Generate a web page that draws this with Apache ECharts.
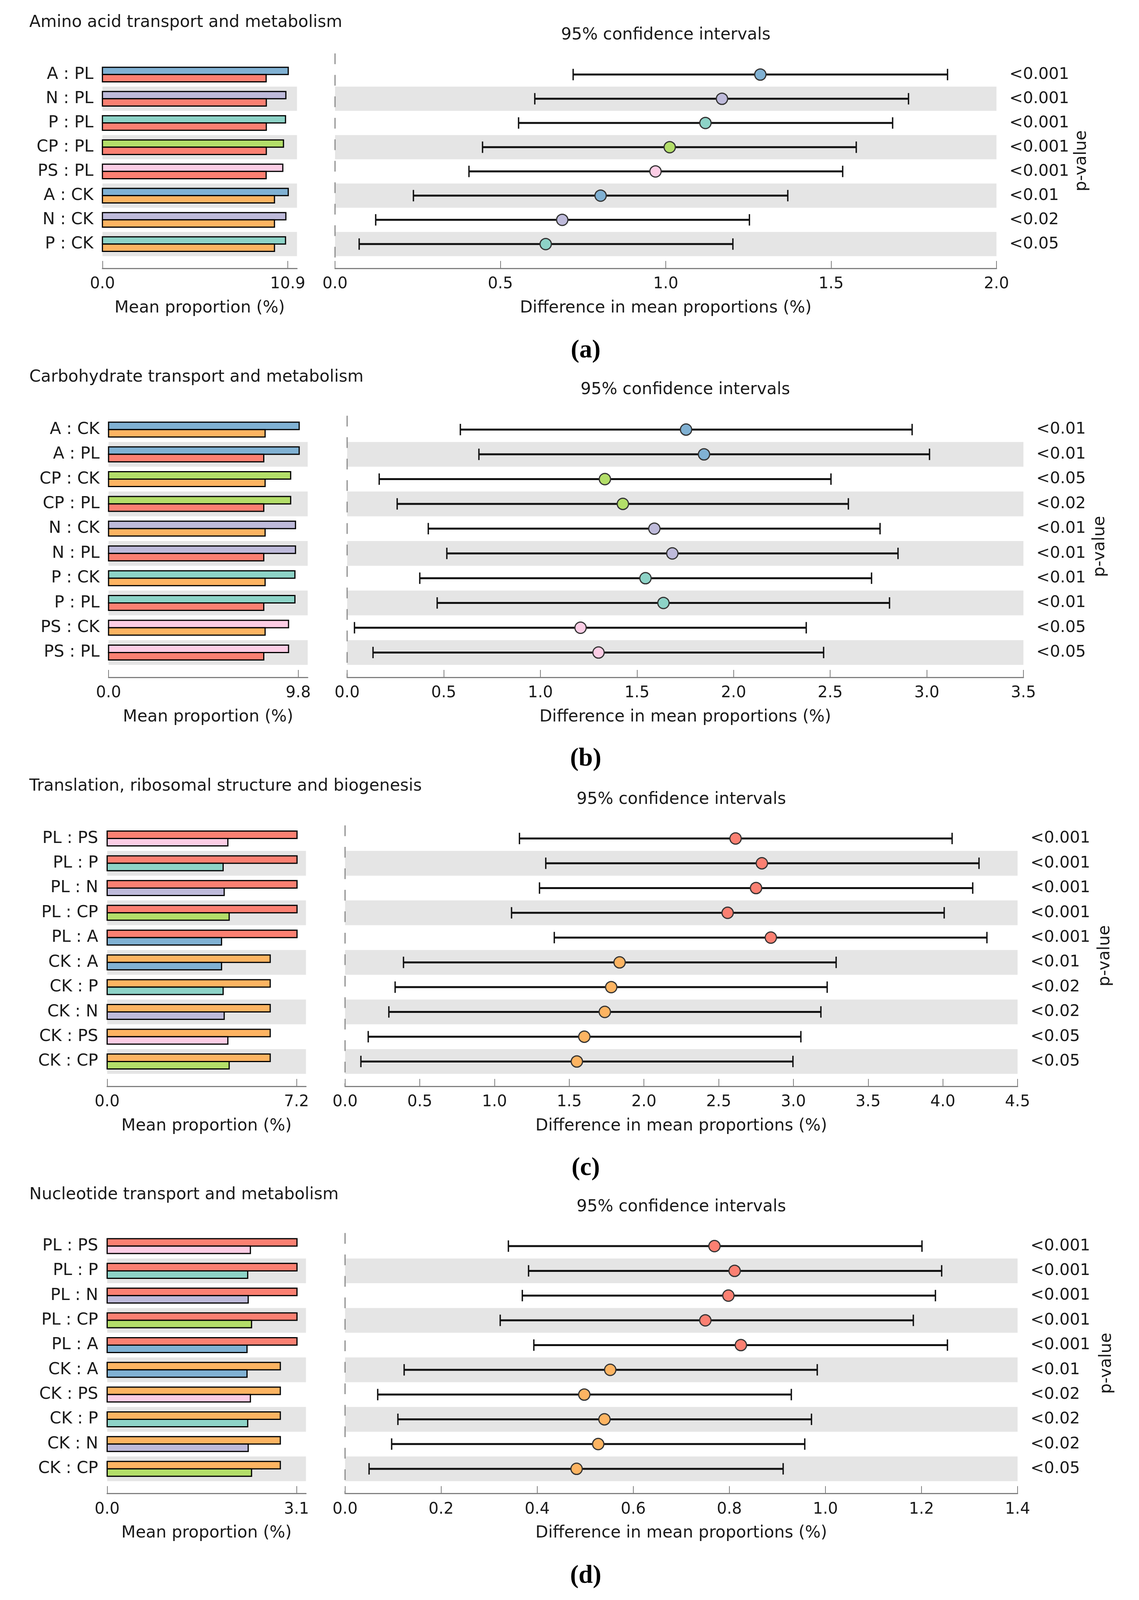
<!DOCTYPE html>
<html>
<head>
<meta charset="utf-8">
<script src="https://cdn.jsdelivr.net/npm/echarts@6/dist/echarts.min.js"></script>
<style>html,body{margin:0;padding:0;background:#fff;overflow:hidden}#c{width:100vw;height:100vh}</style>
</head>
<body>
<div id="c"></div>
<script>
// ---------------- DATA ----------------
const panelTitles = ['Amino acid transport and metabolism', 'Carbohydrate transport and metabolism',
  'Translation, ribosomal structure and biogenesis', 'Nucleotide transport and metabolism'];
const panelLetters = ['(a)', '(b)', '(c)', '(d)'];
const ciTitle = '95% confidence intervals';
const barAxisName = 'Mean proportion (%)';
const ciAxisName = 'Difference in mean proportions (%)';
const pAxisName = 'p-value';

// (a) Amino acid transport and metabolism
const aLabels = ['A : PL', 'N : PL', 'P : PL', 'CP : PL', 'PS : PL', 'A : CK', 'N : CK', 'P : CK'];
const aMean1 = [10.93, 10.79, 10.77, 10.65, 10.61, 10.93, 10.79, 10.77];
const aMean2 = [9.63, 9.64, 9.64, 9.64, 9.63, 10.12, 10.12, 10.12];
const aDiff = [1.286, 1.170, 1.120, 1.012, 0.969, 0.803, 0.687, 0.637];
const aLow = [0.720, 0.604, 0.555, 0.446, 0.405, 0.237, 0.123, 0.073];
const aHigh = [1.852, 1.734, 1.686, 1.576, 1.535, 1.369, 1.253, 1.203];
const aP = ['<0.001', '<0.001', '<0.001', '<0.001', '<0.001', '<0.01', '<0.02', '<0.05'];
const aBarTicks = [0, 10.9];
const aCiTicks = [0, 0.5, 1.0, 1.5, 2.0];

// (b) Carbohydrate transport and metabolism
const bLabels = ['A : CK', 'A : PL', 'CP : CK', 'CP : PL', 'N : CK', 'N : PL', 'P : CK', 'P : PL', 'PS : CK', 'PS : PL'];
const bMean1 = [9.85, 9.85, 9.41, 9.41, 9.66, 9.66, 9.63, 9.63, 9.30, 9.30];
const bMean2 = [8.09, 8.02, 8.09, 8.02, 8.09, 8.02, 8.09, 8.02, 8.09, 8.02];
const bDiff = [1.754, 1.847, 1.334, 1.427, 1.590, 1.683, 1.544, 1.637, 1.208, 1.301];
const bLow = [0.586, 0.682, 0.166, 0.259, 0.420, 0.516, 0.376, 0.466, 0.038, 0.134];
const bHigh = [2.924, 3.014, 2.504, 2.594, 2.758, 2.851, 2.714, 2.807, 2.376, 2.466];
const bP = ['<0.01', '<0.01', '<0.05', '<0.02', '<0.01', '<0.01', '<0.01', '<0.01', '<0.05', '<0.05'];
const bBarTicks = [0, 9.8];
const bCiTicks = [0, 0.5, 1.0, 1.5, 2.0, 2.5, 3.0, 3.5];

// (c) Translation, ribosomal structure and biogenesis
const cLabels = ['PL : PS', 'PL : P', 'PL : N', 'PL : CP', 'PL : A', 'CK : A', 'CK : P', 'CK : N', 'CK : PS', 'CK : CP'];
const cMean1 = [7.22, 7.22, 7.22, 7.22, 7.22, 6.20, 6.20, 6.20, 6.20, 6.20];
const cMean2 = [4.59, 4.41, 4.45, 4.64, 4.35, 4.35, 4.41, 4.45, 4.59, 4.64];
const cDiff = [2.613, 2.789, 2.750, 2.560, 2.849, 1.837, 1.781, 1.738, 1.601, 1.551];
const cLow = [1.167, 1.343, 1.301, 1.114, 1.400, 0.391, 0.335, 0.293, 0.155, 0.106];
const cHigh = [4.062, 4.242, 4.200, 4.009, 4.295, 3.286, 3.226, 3.184, 3.050, 2.997];
const cP = ['<0.001', '<0.001', '<0.001', '<0.001', '<0.001', '<0.01', '<0.02', '<0.02', '<0.05', '<0.05'];
const cBarTicks = [0, 7.2];
const cCiTicks = [0, 0.5, 1.0, 1.5, 2.0, 2.5, 3.0, 3.5, 4.0, 4.5];

// (d) Nucleotide transport and metabolism
const dLabels = ['PL : PS', 'PL : P', 'PL : N', 'PL : CP', 'PL : A', 'CK : A', 'CK : PS', 'CK : P', 'CK : N', 'CK : CP'];
const dMean1 = [3.108, 3.108, 3.108, 3.108, 3.108, 2.835, 2.835, 2.835, 2.835, 2.835];
const dMean2 = [2.345, 2.301, 2.309, 2.364, 2.290, 2.290, 2.345, 2.301, 2.309, 2.364];
const dDiff = [0.769, 0.811, 0.798, 0.750, 0.824, 0.552, 0.498, 0.540, 0.527, 0.482];
const dLow = [0.340, 0.382, 0.369, 0.323, 0.393, 0.123, 0.068, 0.110, 0.097, 0.050];
const dHigh = [1.201, 1.242, 1.229, 1.183, 1.254, 0.983, 0.929, 0.971, 0.957, 0.912];
const dP = ['<0.001', '<0.001', '<0.001', '<0.001', '<0.001', '<0.01', '<0.02', '<0.02', '<0.02', '<0.05'];
const dBarTicks = [0, 3.1];
const dCiTicks = [0, 0.2, 0.4, 0.6, 0.8, 1.0, 1.2, 1.4];

// ---------------- STYLE / LAYOUT ----------------
const groupColors = {A: '#80b1d3', N: '#bebada', P: '#8dd3c7', CP: '#b3de69', PS: '#fccde5', PL: '#fb8072', CK: '#fdb462'};
const FONT = '"DejaVu Sans", "Noto Sans", sans-serif';
const TXT = '#1a1a1a';
const AXC = '#808080';
const BAND = '#e5e5e5';

const panels = [
  {labels: aLabels, m1: aMean1, m2: aMean2, diff: aDiff, lo: aLow, hi: aHigh, p: aP, barTicks: aBarTicks, ciTicks: aCiTicks},
  {labels: bLabels, m1: bMean1, m2: bMean2, diff: bDiff, lo: bLow, hi: bHigh, p: bP, barTicks: bBarTicks, ciTicks: bCiTicks},
  {labels: cLabels, m1: cMean1, m2: cMean2, diff: cDiff, lo: cLow, hi: cHigh, p: cP, barTicks: cBarTicks, ciTicks: cCiTicks},
  {labels: dLabels, m1: dMean1, m2: dMean2, diff: dDiff, lo: dLow, hi: dHigh, p: dP, barTicks: dBarTicks, ciTicks: dCiTicks}
];
// layout in a 2917 x 4765 design space; scaled to the actual window below
const layouts = [
  {titleY: 67, barL: 262.3, barR: 760.6, ciL: 858, ciR: 2552, top: 159, bottom: 799, yMin: -0.874, ciTitleY: 105, letterY: 1045, pGap: 197},
  {titleY: 1124, barL: 278, barR: 788, ciL: 889, ciR: 2621, top: 1238, bottom: 2017, yMin: -0.56, ciTitleY: 1161, letterY: 2261, pGap: 175},
  {titleY: 2342, barL: 274.4, barR: 783.6, ciL: 883.7, ciR: 2606, top: 2458, bottom: 3235, yMin: -0.53, ciTitleY: 2381, letterY: 3480, pGap: 203},
  {titleY: 3559, barL: 274.4, barR: 783.6, ciL: 883.7, ciR: 2606, top: 3672, bottom: 4448, yMin: -0.53, ciTitleY: 3595, letterY: 4694, pGap: 207}
];

const el = document.getElementById('c');
const W = el.clientWidth || window.innerWidth;
const Hh = el.clientHeight || window.innerHeight;
const sx = W / 2917, sy = Hh / 4765, sf = Math.pow(sx, 0.75) * Math.pow(sy, 0.25);
const X = v => v * sx, Y = v => v * sy, F = v => v * sf;

const option = {animation: false, backgroundColor: '#fff', grid: [], xAxis: [], yAxis: [], series: [], graphic: []};

function bandRender(params, api) {
  const i = api.value(0);
  const cs = params.coordSys;
  const a = api.coord([0, i - 0.5]);
  const b = api.coord([0, i + 0.5]);
  return {type: 'rect', silent: true,
    shape: {x: cs.x, y: Math.min(a[1], b[1]), width: cs.width, height: Math.abs(b[1] - a[1])},
    style: {fill: BAND}};
}

panels.forEach((p, k) => {
  const L = layouts[k];
  const n = p.labels.length;
  const idx = p.labels.map((_, i) => i);
  const gBar = option.grid.length;
  const gCi = gBar + 1;
  option.grid.push({left: X(L.barL), top: Y(L.top), width: X(L.barR - L.barL), height: Y(L.bottom - L.top)});
  option.grid.push({left: X(L.ciL), top: Y(L.top), width: X(L.ciR - L.ciL), height: Y(L.bottom - L.top)});

  const tickLabelStyle = {fontSize: F(42), color: TXT, fontFamily: FONT, margin: Y(24), formatter: v => Number(v).toFixed(1)};
  const nameStyle = {fontSize: F(44), color: TXT, fontFamily: FONT};

  option.xAxis.push({
    type: 'value', gridIndex: gBar, min: 0, max: p.barTicks[p.barTicks.length - 1] * 1.05,
    axisLine: {show: true, onZero: false, lineStyle: {color: AXC, width: 3}},
    axisTick: {show: true, inside: true, length: Y(22), customValues: p.barTicks, lineStyle: {color: AXC, width: 2}},
    axisLabel: Object.assign({customValues: p.barTicks}, tickLabelStyle),
    splitLine: {show: false},
    name: barAxisName, nameLocation: 'middle', nameGap: Y(94), nameTextStyle: nameStyle
  });
  option.xAxis.push({
    type: 'value', gridIndex: gCi, min: p.ciTicks[0], max: p.ciTicks[p.ciTicks.length - 1],
    axisLine: {show: true, onZero: false, lineStyle: {color: AXC, width: 3}},
    axisTick: {show: true, inside: true, length: Y(22), customValues: p.ciTicks, lineStyle: {color: AXC, width: 2}},
    axisLabel: Object.assign({customValues: p.ciTicks}, tickLabelStyle),
    splitLine: {show: false},
    name: ciAxisName, nameLocation: 'middle', nameGap: Y(94), nameTextStyle: nameStyle
  });
  option.yAxis.push({
    type: 'value', gridIndex: gBar, inverse: true, min: L.yMin, max: n,
    axisLine: {show: false, onZero: false}, axisTick: {show: false}, splitLine: {show: false},
    axisLabel: {customValues: idx, formatter: v => p.labels[Math.round(v)], margin: X(23), fontSize: F(44), color: TXT, fontFamily: FONT}
  });
  option.yAxis.push({
    type: 'value', gridIndex: gCi, position: 'right', inverse: true, min: L.yMin, max: n,
    axisLine: {show: false, onZero: false}, axisTick: {show: false}, splitLine: {show: false},
    axisLabel: {customValues: idx, formatter: v => p.p[Math.round(v)], margin: X(33), fontSize: F(43), color: TXT, fontFamily: FONT},
    name: pAxisName, nameLocation: 'middle', nameRotate: 90, nameGap: X(L.pGap), nameTextStyle: nameStyle
  });

  const bandData = idx.filter(i => i % 2 === 1).map(i => [i]);
  option.series.push({type: 'custom', xAxisIndex: gBar, yAxisIndex: gBar, z: 1, silent: true,
    renderItem: bandRender, data: bandData});
  option.series.push({type: 'custom', xAxisIndex: gCi, yAxisIndex: gCi, z: 1, silent: true,
    renderItem: bandRender, data: bandData});

  // mean proportion bars (upper: first group, lower: second group)
  option.series.push({
    type: 'custom', xAxisIndex: gBar, yAxisIndex: gBar, z: 3, silent: true,
    encode: {x: [1, 2], y: 0},
    data: idx.map(i => [i, p.m1[i], p.m2[i]]),
    renderItem: (params, api) => {
      const i = api.value(0);
      const groups = p.labels[i].split(' : ');
      const base = api.coord([0, i]);
      const e1 = api.coord([api.value(1), i]);
      const e2 = api.coord([api.value(2), i]);
      const h = Math.abs(api.size([0, 1])[1]) * 0.3;
      return {type: 'group', children: [
        {type: 'rect', shape: {x: base[0], y: base[1] - h, width: e1[0] - base[0], height: h},
          style: {fill: groupColors[groups[0]], stroke: '#000', lineWidth: 3}},
        {type: 'rect', shape: {x: base[0], y: base[1], width: e2[0] - base[0], height: h},
          style: {fill: groupColors[groups[1]], stroke: '#000', lineWidth: 3}}
      ]};
    }
  });

  // dashed zero reference line
  option.series.push({
    type: 'line', xAxisIndex: gCi, yAxisIndex: gCi, z: 2, silent: true, symbol: 'none',
    data: [[0, L.yMin], [0, n]],
    lineStyle: {color: '#8c8c8c', width: 3, type: [Y(32), Y(32)]}
  });

  // 95% confidence intervals
  option.series.push({
    type: 'custom', xAxisIndex: gCi, yAxisIndex: gCi, z: 3, silent: true,
    encode: {x: [1, 2, 3], y: 0},
    data: idx.map(i => [i, p.lo[i], p.diff[i], p.hi[i]]),
    renderItem: (params, api) => {
      const i = api.value(0);
      const g = p.labels[i].split(' : ')[0];
      const lo = api.coord([api.value(1), i]);
      const md = api.coord([api.value(2), i]);
      const hi = api.coord([api.value(3), i]);
      const cap = Y(17);
      return {type: 'group', children: [
        {type: 'line', shape: {x1: lo[0], y1: lo[1], x2: hi[0], y2: hi[1]}, style: {stroke: '#111', lineWidth: 5}},
        {type: 'line', shape: {x1: lo[0], y1: lo[1] - cap, x2: lo[0], y2: lo[1] + cap}, style: {stroke: '#111', lineWidth: 3.5}},
        {type: 'line', shape: {x1: hi[0], y1: hi[1] - cap, x2: hi[0], y2: hi[1] + cap}, style: {stroke: '#111', lineWidth: 3.5}},
        {type: 'circle', shape: {cx: md[0], cy: md[1], r: F(15)}, style: {fill: groupColors[g], stroke: '#333', lineWidth: 3}}
      ]};
    }
  });

  option.graphic.push({type: 'text', x: X(75), y: Y(L.titleY), silent: true,
    style: {text: panelTitles[k], font: F(44) + 'px ' + FONT, fill: TXT, textAlign: 'left', textVerticalAlign: 'middle'}});
  option.graphic.push({type: 'text', x: X((L.ciL + L.ciR) / 2), y: Y(L.ciTitleY), silent: true,
    style: {text: ciTitle, font: F(44) + 'px ' + FONT, fill: TXT, textAlign: 'center', textVerticalAlign: 'middle'}});
  option.graphic.push({type: 'text', x: X(1500), y: Y(L.letterY), silent: true,
    style: {text: panelLetters[k], font: 'bold ' + F(68) + 'px "Liberation Serif", "Times New Roman", serif', fill: '#000', textAlign: 'center', textVerticalAlign: 'middle'}});
});

const chart = echarts.init(el, null, {renderer: 'canvas'});
chart.setOption(option);
</script>
</body>
</html>
